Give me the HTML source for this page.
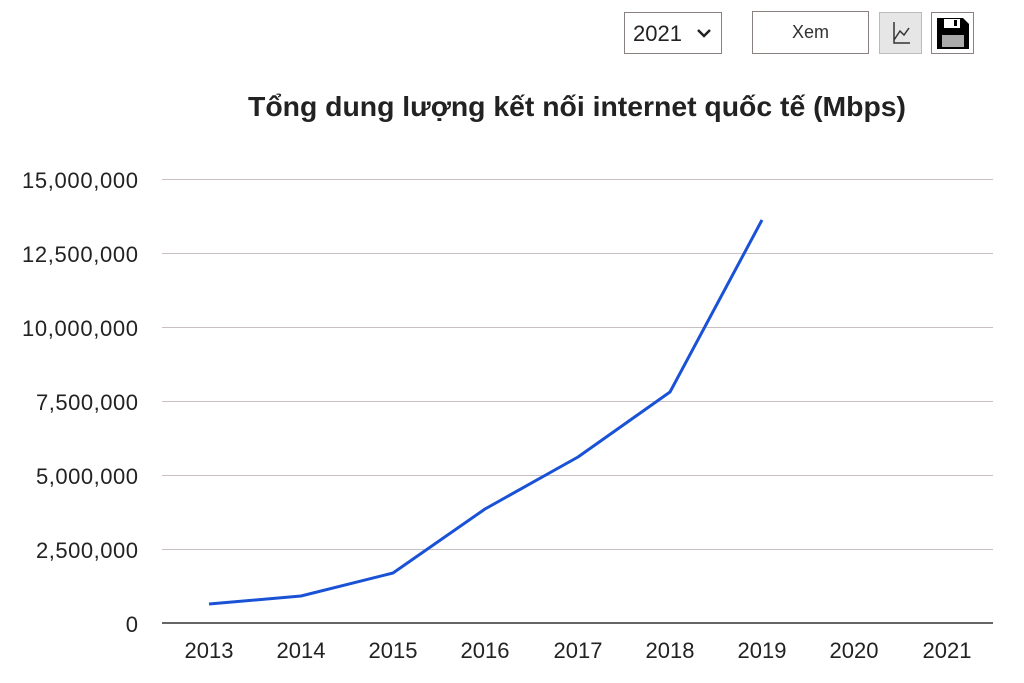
<!DOCTYPE html>
<html><head><meta charset="utf-8"><style>
body{margin:0;width:1024px;height:683px;background:#fff;font-family:"Liberation Sans",Arial,sans-serif;position:relative;overflow:hidden}
.b{position:absolute;box-sizing:border-box;border:1px solid #8a8080;background:#fff}
</style></head><body>
<div class="b" style="left:624px;top:12px;width:98px;height:42px;font-size:22px;color:#222;padding:8px 0 0 8px">2021
<svg style="position:absolute;left:72px;top:15px" width="14" height="10"><path d="M1 2 L7 8 L13 2" stroke="#222" stroke-width="2.5" fill="none"/></svg></div>
<div class="b" style="left:752px;top:11px;width:117px;height:43px;font-size:18px;color:#333;text-align:center;line-height:41px">Xem</div>
<div class="b" style="left:879px;top:12px;width:43px;height:42px;background:#e6e6e6;border-color:#bbb">
<svg width="41" height="40"><path d="M14 9 V30 H30 M14 27 L20 18 L24 22 L29 15" stroke="#333" stroke-width="1.5" fill="none"/></svg></div>
<div class="b" style="left:931px;top:12px;width:43px;height:42px">
<svg width="41" height="40"><path d="M5 5 H31 L37 11 V36 H5 Z" fill="#000"/><rect x="12" y="6" width="16" height="9" fill="#fff"/><rect x="22" y="7" width="3" height="6" fill="#000"/><rect x="10" y="22" width="22" height="12" fill="#aaa"/></svg></div>
<svg width="1024" height="683" style="position:absolute;left:0;top:0;pointer-events:none">
<text x="577" y="116" text-anchor="middle" font-size="28" font-weight="bold" fill="#222" font-family="Liberation Sans,Arial,sans-serif" textLength="658" lengthAdjust="spacingAndGlyphs">Tổng dung lượng kết nối internet quốc tế (Mbps)</text>
<g stroke="#c8c0c0" stroke-width="1">
<line x1="162" x2="993" y1="179.5" y2="179.5"/><line x1="162" x2="993" y1="253.5" y2="253.5"/><line x1="162" x2="993" y1="327.5" y2="327.5"/><line x1="162" x2="993" y1="401.5" y2="401.5"/><line x1="162" x2="993" y1="475.5" y2="475.5"/><line x1="162" x2="993" y1="549.5" y2="549.5"/></g>
<line x1="162" x2="993" y1="623" y2="623" stroke="#333" stroke-width="1.5"/>
<g font-size="22" fill="#222" text-anchor="end" font-family="Liberation Sans,Arial,sans-serif">
<text x="138" y="188" textLength="116">15,000,000</text><text x="138" y="262" textLength="116">12,500,000</text><text x="138" y="336" textLength="116">10,000,000</text><text x="138" y="410" textLength="102">7,500,000</text><text x="138" y="484" textLength="102">5,000,000</text><text x="138" y="558" textLength="102">2,500,000</text><text x="138" y="632">0</text></g>
<g font-size="22" fill="#222" text-anchor="middle" font-family="Liberation Sans,Arial,sans-serif">
<text x="209" y="658">2013</text><text x="301" y="658">2014</text><text x="393" y="658">2015</text><text x="485" y="658">2016</text><text x="578" y="658">2017</text><text x="670" y="658">2018</text><text x="762" y="658">2019</text><text x="854" y="658">2020</text><text x="947" y="658">2021</text></g>
<polyline points="209,604 301,596 393,573 485,509 578,457 670,392 762,220" fill="none" stroke="#1a52d6" stroke-width="3" stroke-linejoin="round"/>
</svg>
</body></html>
